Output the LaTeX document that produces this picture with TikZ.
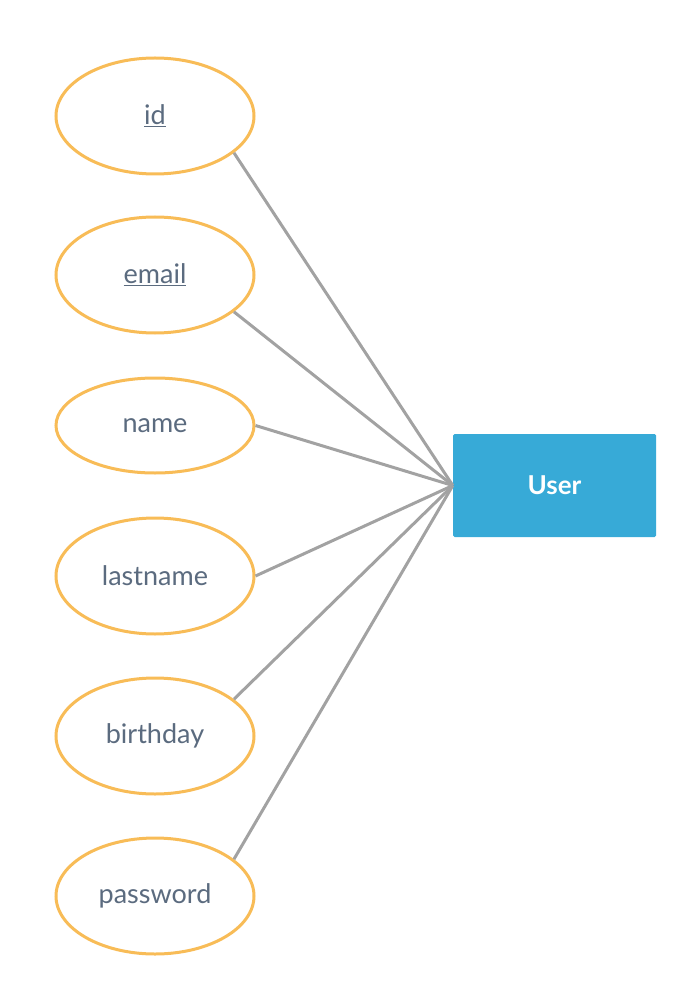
\documentclass[tikz,border=0pt]{standalone}
\usepackage{fontspec}
\setmainfont{Lato}
\usepackage{xcolor}
\usetikzlibrary{positioning,shapes.geometric}
\definecolor{attrline}{HTML}{F8BC57}
\definecolor{attrtext}{HTML}{5B6B7F}
\definecolor{entityfill}{HTML}{37AAD7}
\definecolor{linkgray}{HTML}{A2A2A2}
\begin{document}
\begin{tikzpicture}[x=1pt,y=-1pt,
  attr/.style={ellipse, draw=attrline, line width=3pt, fill=white, minimum width=198pt, minimum height=116pt, inner sep=0pt, text=attrtext, font=\fontsize{27}{32}\selectfont},
  entity/.style={rectangle, rounded corners=1.5pt, fill=entityfill, minimum width=203pt, minimum height=103pt, text=white, font=\bfseries\fontsize{26}{31}\selectfont},
  link/.style={draw=linkgray, line width=3pt}]
\useasboundingbox (0,0) rectangle (681,981);
\node[entity] (user) at (554.5,485.5) {User};
\node[attr] (id) at (155,116) {\underline{id}};
\node[attr] (email) at (155,275) {\underline{email}};
\node[attr, minimum height=95pt] (name) at (155,425.5) {name};
\node[attr] (lastname) at (155,576) {lastname};
\node[attr] (birthday) at (155,736) {birthday};
\node[attr] (password) at (155,896) {password};
\draw[link] (id.-25) -- (user.west);
\draw[link] (email.-25) -- (user.west);
\draw[link] (name.east) -- (user.west);
\draw[link] (lastname.east) -- (user.west);
\draw[link] (birthday.25) -- (user.west);
\draw[link] (password.25) -- (user.west);
\end{tikzpicture}
\end{document}
